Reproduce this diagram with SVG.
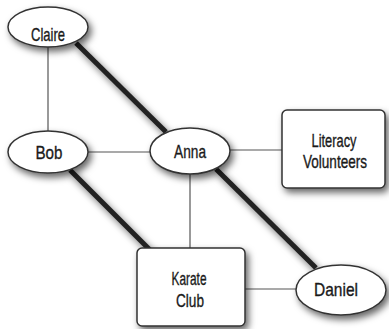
<svg xmlns="http://www.w3.org/2000/svg" width="389" height="329" viewBox="0 0 389 329">
<defs>
<filter id="sh" x="-30%" y="-30%" width="170%" height="170%">
<feDropShadow dx="3" dy="4" stdDeviation="3.5" flood-color="#000" flood-opacity="0.6"/>
</filter>
</defs>
<style>
.node{fill:#fff;stroke:#333;stroke-width:1.5;filter:url(#sh)}
.thin{stroke:#555;stroke-width:1.2;fill:none}
.thick{stroke:#222;stroke-width:5;fill:none;filter:url(#sh)}
text{font-family:"Liberation Sans",Arial,sans-serif;font-size:19px;fill:#1a1a1a;stroke:#1a1a1a;stroke-width:0.35;text-anchor:middle}
text.sm{font-size:17px}
</style>
<rect width="389" height="329" fill="#fff"/>
<g id="connectors">
<line class="thin" x1="48" y1="47" x2="48" y2="131"/>
<line class="thin" x1="88" y1="152" x2="151" y2="152"/>
<line class="thin" x1="230" y1="150" x2="282" y2="150"/>
<line class="thin" x1="190" y1="173" x2="190" y2="248"/>
<line class="thin" x1="245" y1="289" x2="296" y2="289"/>
<line class="thick" x1="76" y1="43" x2="166" y2="132"/>
<line class="thick" x1="70" y1="170" x2="150" y2="250"/>
<line class="thick" x1="216" y1="169" x2="316" y2="268"/>
</g>
<g id="claire"><ellipse class="node" cx="48" cy="27" rx="40" ry="20"/><text x="48" y="41" textLength="34" lengthAdjust="spacingAndGlyphs">Claire</text></g>
<g id="bob"><ellipse class="node" cx="48" cy="152" rx="40" ry="21"/><text x="49" y="159" textLength="27" lengthAdjust="spacingAndGlyphs">Bob</text></g>
<g id="anna"><ellipse class="node" cx="190" cy="151" rx="40" ry="23"/><text x="190" y="158" textLength="32" lengthAdjust="spacingAndGlyphs">Anna</text></g>
<g id="literacy"><rect class="node" x="282" y="110" width="103" height="78" rx="5"/><text x="334" y="147" textLength="45" lengthAdjust="spacingAndGlyphs">Literacy</text><text class="sm" x="335" y="168" textLength="64" lengthAdjust="spacingAndGlyphs" transform="translate(335 168) scale(1 1.1) translate(-335 -168)">Volunteers</text></g>
<g id="karate"><rect class="node" x="137" y="248" width="108" height="78" rx="5"/><text x="189" y="285" textLength="35" lengthAdjust="spacingAndGlyphs">Karate</text><text x="190" y="307" textLength="28" lengthAdjust="spacingAndGlyphs">Club</text></g>
<g id="daniel"><ellipse class="node" cx="341" cy="290" rx="45" ry="25"/><text x="336" y="296" textLength="44" lengthAdjust="spacingAndGlyphs">Daniel</text></g>
</svg>
